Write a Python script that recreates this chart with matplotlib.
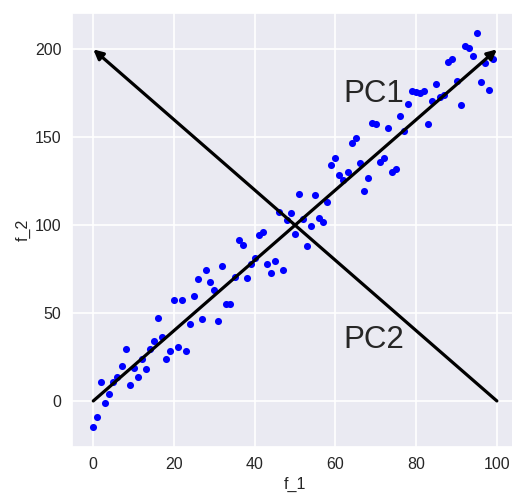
import numpy as np
import matplotlib
matplotlib.use('Agg')
import matplotlib.pyplot as plt
import seaborn as sns

sns.set_theme(style='darkgrid')
plt.rcParams['font.family'] = ['Liberation Sans', 'DejaVu Sans']

# 采样点: f_1 为 0..99, f_2 为带噪声的观测值
f2 = [-15, -9, 11, -1.2, 3.8, 11, 13.8, 20, 29.7, 9,
      19, 13.8, 24, 18.4, 29.6, 34.3, 47.4, 36.2, 23.7, 28.6,
      57.2, 30.7, 57.4, 28.6, 44, 59.7, 69.5, 46.6, 74.6, 67.7,
      63.3, 45.3, 76.6, 55.3, 55, 70.3, 91.5, 88.5, 70.1, 77.9,
      81.1, 94.5, 96.1, 77.9, 72.9, 79.6, 107.7, 74.3, 103, 107,
      94.9, 117.9, 103.5, 88.3, 99.3, 117.3, 104.2, 101.9, 113.3, 134,
      138, 128.6, 125.9, 130.4, 146.5, 149.7, 135.3, 119.2, 127, 157.9,
      157.5, 135.7, 138.3, 155.4, 130.4, 132.1, 162, 153.5, 169, 176.6,
      175.7, 174.9, 176.6, 157.6, 170.5, 180.2, 172.8, 174.1, 193.1, 194.3,
      181.8, 168.4, 201.8, 200.7, 196.5, 209.4, 181.4, 192, 177, 194.6]
f1 = np.arange(len(f2))

# 主成分方向 (起点, 终点)
pc_vectors = [((0, 0), (100, 200)), ((100, 0), (0, 200))]
pc_labels = ['PC1', 'PC2']
pc_label_pos = [(62, 170), (62, 30)]

fig = plt.figure(figsize=(5.12, 4.93), dpi=100)
ax = fig.add_axes([0.140, 0.0933, 0.873, 0.880])

ax.scatter(f1, f2, s=26, color='blue', linewidths=0, zorder=3)

for (start, end) in pc_vectors:
    ax.annotate('', xy=end, xytext=start,
                arrowprops=dict(arrowstyle='-|>', linewidth=2.3, color='black',
                                shrinkA=0, shrinkB=0, mutation_scale=14),
                zorder=4)

for lab, (tx, ty) in zip(pc_labels, pc_label_pos):
    ax.text(tx, ty, lab, fontsize=22.5, color='.15')

ax.set_xlim(-5.35, 105.4)
ax.set_ylim(-26.2, 220.6)
ax.set_xticks([0, 20, 40, 60, 80, 100])
ax.set_yticks([0, 50, 100, 150, 200])
ax.tick_params(labelsize=11.5, pad=7.5, length=0)
ax.grid(color='white', linewidth=1.2)
ax.set_xlabel('f_1', fontsize=11.5, labelpad=3.5)
ax.set_ylabel('f_2', fontsize=11.5, labelpad=3)

fig.savefig('out.png', dpi=100)
